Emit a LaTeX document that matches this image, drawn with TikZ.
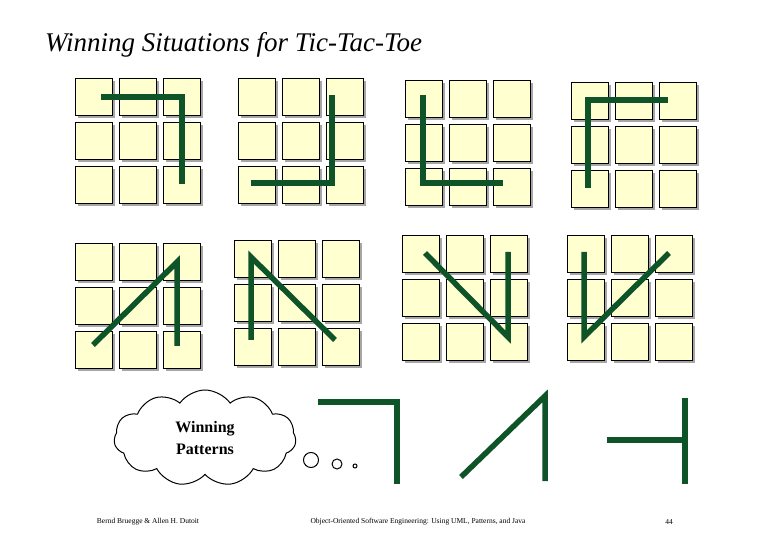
\documentclass[tikz,border=0pt]{standalone}
\usepackage{fontspec}
\setmainfont{Liberation Serif}
\usetikzlibrary{shapes.symbols}
\definecolor{cellfill}{HTML}{FFFFD0}
\definecolor{wingreen}{HTML}{0E5428}
\tikzset{
  cellbox/.style={draw=black,line width=0.7pt,fill=cellfill,minimum width=37pt,minimum height=37pt,inner sep=0pt,anchor=north west},
  shadowbox/.style={fill=black!35,minimum width=37pt,minimum height=37pt,inner sep=0pt,anchor=north west,draw=none},
  winline/.style={draw=wingreen,line width=5.5pt},
  foot/.style={font=\fontsize{7.5}{8}\selectfont}
}
\newcommand{\tttgrid}[3]{%
  \foreach \i in {0,1,2}{\foreach \j in {0,1,2}{%
    \node[shadowbox] (#3s\i\j) at ({#1+44*\i+3},{-(#2+44*\j+3)}) {};
    \node[cellbox] (#3c\i\j) at ({#1+44*\i},{-(#2+44*\j)}) {};}}}
\begin{document}
\begin{tikzpicture}[x=1pt,y=1pt]
\useasboundingbox (0,0) rectangle (780,-540);
\node[anchor=west,inner sep=0pt,font=\fontsize{27}{30}\selectfont\itshape] (title) at (45,-45) {Winning Situations for Tic-Tac-Toe};
\tttgrid{75}{78}{a}
\tttgrid{238}{78}{b}
\tttgrid{405}{80}{c}
\tttgrid{571}{82}{d}
\tttgrid{75}{243}{e}
\tttgrid{234}{240}{f}
\tttgrid{402}{235}{g}
\tttgrid{567}{235}{h}
\coordinate (a1) at (101,-97); \coordinate (a2) at (182,-97); \coordinate (a3) at (182,-184);
\draw[winline] (a1) -- (a2) -- (a3);
\coordinate (b1) at (332,-95); \coordinate (b2) at (332,-183); \coordinate (b3) at (251,-183);
\draw[winline] (b1) -- (b2) -- (b3);
\coordinate (c1) at (423,-95); \coordinate (c2) at (423,-183); \coordinate (c3) at (503,-183);
\draw[winline] (c1) -- (c2) -- (c3);
\coordinate (d1) at (668,-100); \coordinate (d2) at (588,-100); \coordinate (d3) at (588,-188);
\draw[winline] (d1) -- (d2) -- (d3);
\coordinate (e1) at (93,-345); \coordinate (e2) at (177,-262); \coordinate (e3) at (177,-346);
\draw[winline] (e1) -- (e2) -- (e3);
\coordinate (f1) at (251,-340); \coordinate (f2) at (251,-257); \coordinate (f3) at (335,-340);
\draw[winline] (f1) -- (f2) -- (f3);
\coordinate (g1) at (425,-253); \coordinate (g2) at (508,-337); \coordinate (g3) at (508,-252);
\draw[winline] (g1) -- (g2) -- (g3);
\coordinate (h1) at (584,-252); \coordinate (h2) at (584,-337); \coordinate (h3) at (669,-253);
\draw[winline] (h1) -- (h2) -- (h3);
\coordinate (p1) at (318,-402); \coordinate (p2) at (397,-402); \coordinate (p3) at (397,-484);
\draw[winline] (p1) -- (p2) -- (p3);
\coordinate (q1) at (461,-477); \coordinate (q2) at (545,-396); \coordinate (q3) at (545,-481);
\draw[winline] (q1) -- (q2) -- (q3);
\coordinate (r1) at (607,-440); \coordinate (r2) at (685,-440);
\coordinate (r3) at (685,-398); \coordinate (r4) at (685,-484);
\draw[winline] (r1) -- (r2);
\draw[winline] (r3) -- (r4);
\node[cloud,draw,line width=1pt,cloud puffs=11,cloud puff arc=110,aspect=1.9,minimum width=182pt,minimum height=96pt,inner sep=0pt,align=center,font=\fontsize{16}{22}\selectfont\bfseries] (cloud) at (205,-438) {Winning\\Patterns};
\node[circle,draw,line width=1pt,minimum size=15pt,inner sep=0pt] (o1) at (311,-460) {};
\node[circle,draw,line width=1pt,minimum size=10pt,inner sep=0pt] (o2) at (337,-464) {};
\node[circle,draw,line width=1pt,minimum size=4pt,inner sep=0pt] (o3) at (355,-466) {};
\node[foot] (f1t) at (148,-522) {Bernd Bruegge \& Allen H. Dutoit};
\node[foot] (f2t) at (418,-522) {Object-Oriented Software Engineering: Using UML, Patterns, and Java};
\node[foot] (f3t) at (669,-522) {44};
\end{tikzpicture}
\end{document}
